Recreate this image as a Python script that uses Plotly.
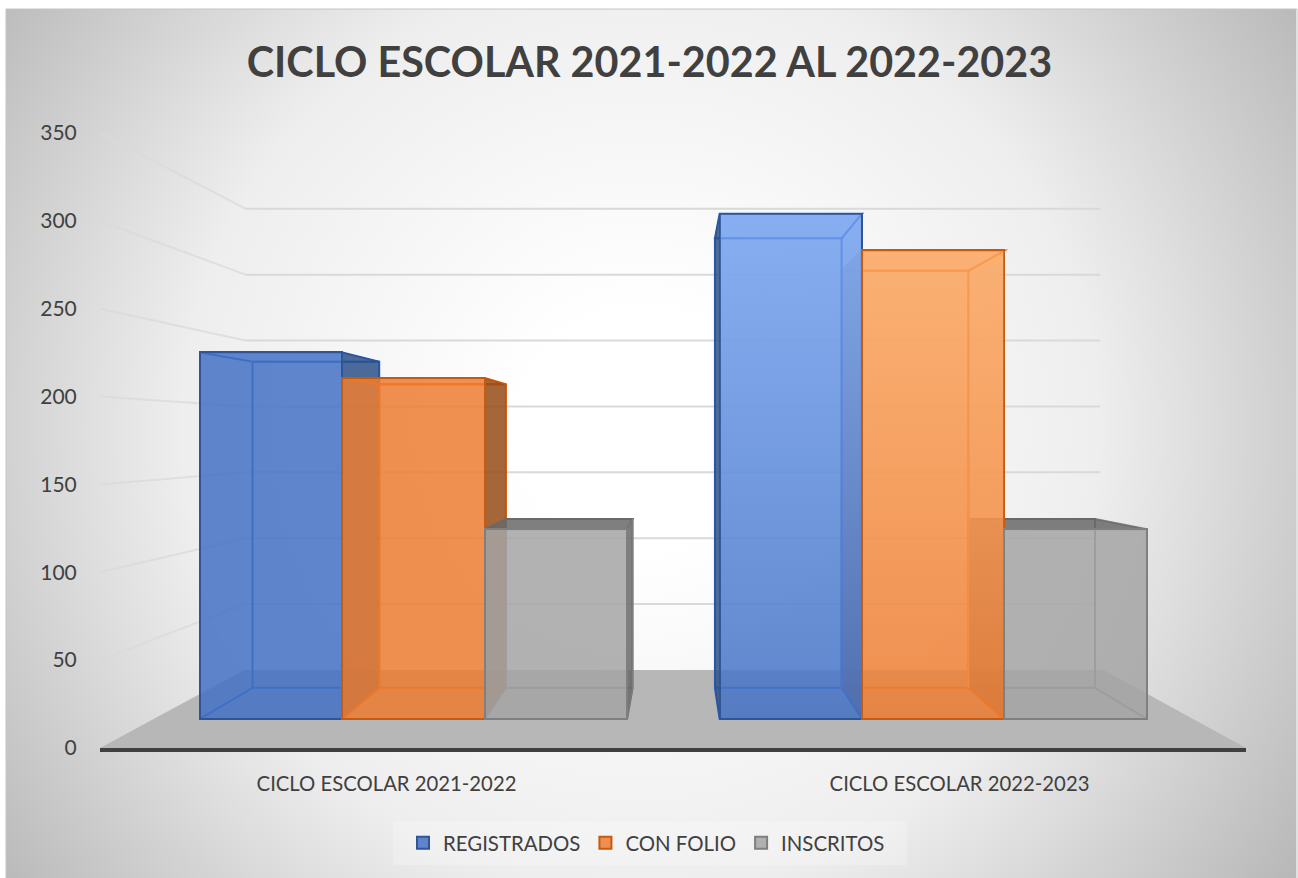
import base64
import plotly.graph_objects as go

TITLE = "CICLO ESCOLAR 2021-2022 AL 2022-2023"
CATEGORIES = ["CICLO ESCOLAR 2021-2022", "CICLO ESCOLAR 2022-2023"]
SERIES_NAMES = ["REGISTRADOS", "CON FOLIO", "INSCRITOS"]
REGISTRADOS = [230, 317]
CON_FOLIO = [214, 294]
INSCRITOS = [119, 119]
Y_TICKS = [0, 50, 100, 150, 200, 250, 300, 350]

W, H = 1298, 878
ML, MR, MT, MB = 100, 52, 133, 130
PW, PH = W - ML - MR, H - MT - MB

# perspective of the 3-D scene, in axis units
VPX, VPY = 0.507, 177.6
K_FRONT, K_BACK, K_WALL = 0.907, 0.807, 0.75
BAR_W = 0.274


def proj(x, y, k):
    return VPX + k * (x - VPX), VPY + k * (y - VPY)


def path(pts):
    return "M " + " L ".join(f"{x:.4f},{y:.3f}" for x, y in pts) + " Z"


def px(x):
    return (x - ML) / PW


def py(y):
    return 1 - (y - MT) / PH


STYLE = [
    dict(fill="rgba(68,114,196,0.85)", edge="#2f5597", side="rgba(45,81,137,0.85)", inner="#235fc3"),
    dict(fill="rgba(237,125,49,0.85)", edge="#c55a11", side="rgba(149,75,24,0.85)", inner="#e65a00"),
    dict(fill="rgba(165,165,165,0.85)", edge="#7f7f7f", side="rgba(105,105,105,0.85)", inner="#737373"),
]
VALUES = [REGISTRADOS, CON_FOLIO, INSCRITOS]

shapes = []

# floor
bl = proj(-0.5, 0, K_WALL)
br = proj(1.5, 0, K_WALL)
shapes.append(dict(type="path", path=path([(-0.5, 0), (1.5, 0), br, bl]),
                   fillcolor="#b7b7b7", line=dict(width=0), layer="below"))
# walls
for t in Y_TICKS[1:]:
    a = proj(-0.5, t, K_WALL)
    b = proj(1.5, t, K_WALL)
    shapes.append(dict(type="line", x0=a[0] + 0.002, y0=a[1], x1=b[0] - 0.006, y1=b[1], layer="below",
                       line=dict(color="#d9d9d9", width=2)))
    shapes.append(dict(type="line", x0=-0.5, y0=t, x1=a[0] + 0.002, y1=a[1], layer="below",
                       line=dict(color="rgba(217,217,217,0.75)", width=2)))


def corners(i, s):
    v = VALUES[s][i]
    xl = i + (s - 1.5) * BAR_W
    xr = xl + BAR_W
    return (proj(xl, 0, K_FRONT), proj(xl, v, K_FRONT), proj(xr, 0, K_FRONT), proj(xr, v, K_FRONT),
            proj(xl, 0, K_BACK), proj(xl, v, K_BACK), proj(xr, 0, K_BACK), proj(xr, v, K_BACK))


def bar_faces(i, s):
    st = STYLE[s]
    fl_b, fl_t, fr_b, fr_t, bl_b, bl_t, br_b, br_t = corners(i, s)
    out = []
    out.append(dict(type="path", path=path([bl_b, br_b, br_t, bl_t]), layer="below",
                    fillcolor="rgba(0,0,0,0)", line=dict(color=st["inner"], width=2)))
    for a, b in ((fl_b, bl_b), (fr_b, br_b)):
        out.append(dict(type="line", x0=a[0], y0=a[1], x1=b[0], y1=b[1], layer="below",
                        line=dict(color=st["inner"], width=2)))
    top_dark = bl_t[1] > fl_t[1]
    out.append(dict(type="path", path=path([fl_t, fr_t, br_t, bl_t]), layer="below",
                    fillcolor=st["side"] if top_dark else "rgba(0,0,0,0)",
                    line=dict(color=st["side"] if top_dark else st["inner"], width=2)))
    if br_t[0] > fr_t[0]:
        out.append(dict(type="path", path=path([fr_b, br_b, br_t, fr_t]), layer="below",
                        fillcolor=st["side"], line=dict(color=st["edge"], width=1)))
    if bl_t[0] < fl_t[0]:
        out.append(dict(type="path", path=path([fl_b, bl_b, bl_t, fl_t]), layer="below",
                        fillcolor=st["side"], line=dict(color=st["edge"], width=1)))
    return out


for s in (0, 1, 2):
    shapes += bar_faces(0, s)
for s in (2, 1, 0):
    shapes += bar_faces(1, s)

fig = go.Figure()
base0 = proj(0, 0, K_FRONT)[1]
for s, name in enumerate(SERIES_NAMES):
    xs = [proj(i + (s - 1) * BAR_W, 0, K_FRONT)[0] for i in range(len(CATEGORIES))]
    fig.add_trace(go.Bar(
        name=name, x=xs, y=[K_FRONT * v for v in VALUES[s]], base=base0,
        width=K_FRONT * BAR_W, hoverinfo="skip",
        marker=dict(color=STYLE[s]["fill"], line=dict(color=STYLE[s]["edge"], width=2)),
    ))

# the lit front faces of the taller 2022-2023 columns, with their inner edges on top
LIGHT = {0: ("150,190,255", "rgba(70,125,225,0.45)"), 1: ("255,190,130", "rgba(250,145,70,0.7)")}
for s, (rgb, line_rgba) in LIGHT.items():
    fl_b, fl_t, fr_b, fr_t, bl_b, bl_t, br_b, br_t = corners(1, s)
    pad = 0.002
    fig.add_trace(go.Scatter(
        x=[fl_b[0] + pad, fr_b[0] - pad, fr_b[0] - pad, fl_b[0] + pad, fl_b[0] + pad],
        y=[fl_b[1] + 1, fl_b[1] + 1, fr_t[1] - 0.6, fr_t[1] - 0.6, fl_b[1] + 1],
        mode="lines", line=dict(width=0), fill="toself", showlegend=False, hoverinfo="skip",
        fillgradient=dict(type="vertical",
                          colorscale=[[0, f"rgba({rgb},0)"], [1, f"rgba({rgb},0.72)"]]),
    ))
    # right-hand inner edge of the box and the back rectangle, kept inside the front face
    start = max(bl_t[0], fl_t[0]) + pad
    lx = [start, br_t[0], br_b[0], None, br_t[0], fr_t[0] - pad]
    ly = [bl_t[1], br_t[1], br_b[1], None, br_t[1], fr_t[1] - 0.6]
    fig.add_trace(go.Scatter(x=lx, y=ly, mode="lines", showlegend=False, hoverinfo="skip",
                             line=dict(color=line_rgba, width=2)))

# chart-area background
BX0, BY0, BX1, BY1 = 6, 9, 1296, 878
svg = f'''<svg xmlns="http://www.w3.org/2000/svg" width="{BX1-BX0}" height="{BY1-BY0}">
<defs><radialGradient id="g" gradientUnits="userSpaceOnUse" cx="{640-BX0}" cy="{430-BY0}" r="790">
<stop offset="0.15" stop-color="#ffffff"/><stop offset="0.58" stop-color="#eeeeee"/>
<stop offset="0.7" stop-color="#dfdfdf"/><stop offset="1" stop-color="#b8b8b8"/></radialGradient></defs>
<rect width="100%" height="100%" fill="url(#g)"/></svg>'''
src = "data:image/svg+xml;base64," + base64.b64encode(svg.encode()).decode()

fig.add_layout_image(dict(source=src, xref="paper", yref="paper", x=px(BX0), y=py(BY0),
                          sizex=(BX1 - BX0) / PW, sizey=(BY1 - BY0) / PH,
                          xanchor="left", yanchor="top", sizing="stretch", layer="below"))
shapes.insert(0, dict(type="rect", xref="paper", yref="paper", x0=px(BX0), x1=px(BX1 + 1),
                      y0=py(BY1 + 2), y1=py(BY0), layer="below",
                      line=dict(color="#c4c4c4", width=1), fillcolor="rgba(0,0,0,0)"))
# translucent band behind the legend
shapes.insert(1, dict(type="rect", xref="paper", yref="paper", x0=px(393), x1=px(907),
                      y0=py(865), y1=py(821), layer="below",
                      line=dict(width=0), fillcolor="rgba(255,255,255,0.22)"))

FONT = "Lato, Carlito, Calibri, sans-serif"
fig.update_layout(
    width=W, height=H, margin=dict(l=ML, r=MR, t=MT, b=MB),
    paper_bgcolor="white", plot_bgcolor="rgba(0,0,0,0)",
    barmode="overlay", bargap=0, shapes=shapes,
    font=dict(family=FONT, color="#404040"),
    title=dict(text=f"<b>{TITLE}</b>", font=dict(size=41.3, color="#404040", family=FONT),
               x=649.5 / W, xanchor="center", y=1 - 62.5 / H, yanchor="middle",
               xref="container", yref="container"),
    xaxis=dict(range=[-0.5, 1.5], tickmode="array", tickvals=[0, 1], ticktext=CATEGORIES,
               showgrid=False, zeroline=False, showline=True, linecolor="#404040", linewidth=3.5,
               ticks="outside", ticklen=15, tickcolor="rgba(0,0,0,0)",
               tickfont=dict(size=20.3, color="#404040")),
    yaxis=dict(range=[0, 350], tickmode="array", tickvals=Y_TICKS, showgrid=False, zeroline=False,
               showline=False, ticks="outside", ticklen=18, tickcolor="rgba(0,0,0,0)",
               tickfont=dict(size=21, color="#404040")),
    legend=dict(orientation="h", x=px(403), xanchor="left", y=py(823), yanchor="top",
                bgcolor="rgba(0,0,0,0)", font=dict(size=20.4, color="#404040"),
                itemclick=False, itemdoubleclick=False),
    hovermode=False,
)

fig.write_html("out.html", config=dict(displayModeBar=False),
               post_script="document.body.style.margin='0';document.body.style.overflow='hidden';")
